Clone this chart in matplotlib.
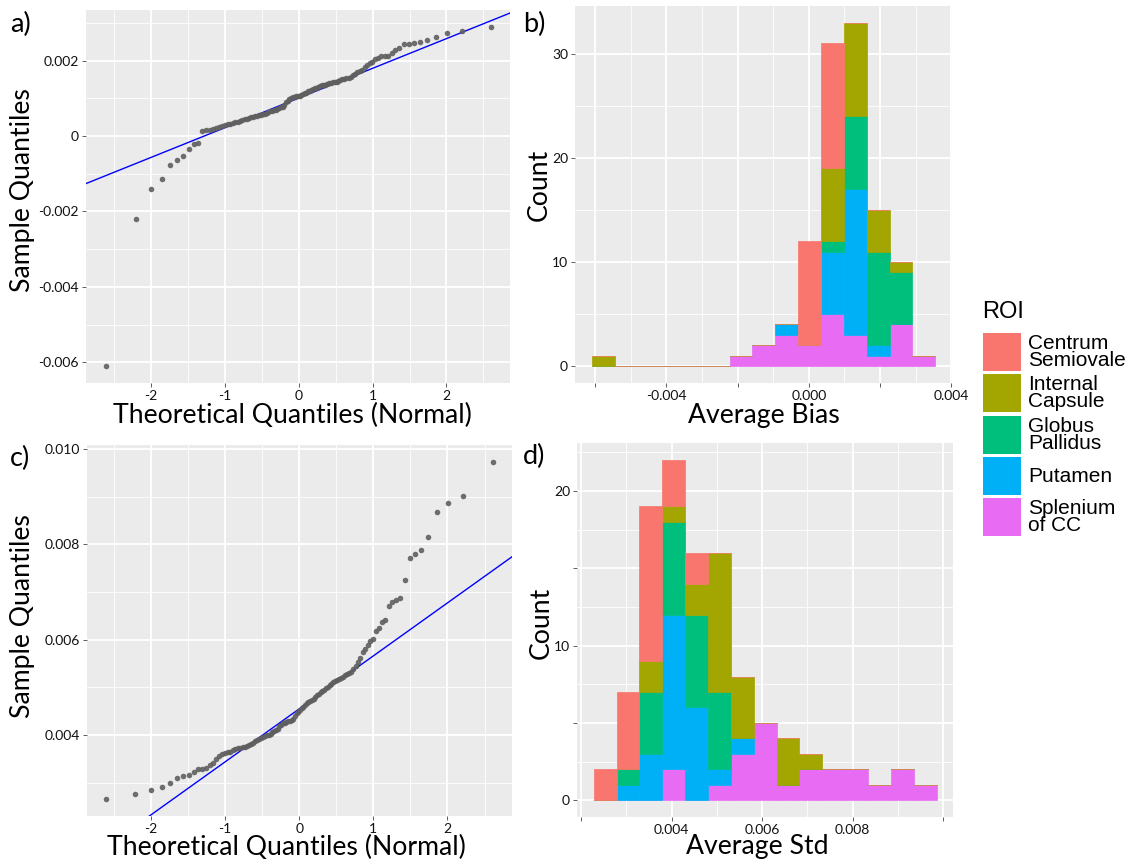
import matplotlib
matplotlib.use('Agg')
import matplotlib.pyplot as plt
import numpy as np
from statistics import NormalDist
from matplotlib.patches import Rectangle

plt.rcParams['axes.unicode_minus'] = False

# ---------------- data ----------------
roi_names = ["Centrum Semiovale", "Internal Capsule", "Globus Pallidus", "Putamen", "Splenium of CC"]
roi_colors = ["#F8766D", "#A3A500", "#00BF7D", "#00B0F6", "#E76BF3"]

# sorted sample values (x 1e-3) for the QQ plots
bias_sample_e3 = [
    -6.09, -2.19, -1.41, -1.14, -0.77, -0.63, -0.52, -0.345, -0.22, -0.195,
    0.12, 0.15, 0.17, 0.19, 0.21, 0.25, 0.27, 0.29, 0.31, 0.33,
    0.35, 0.37, 0.38, 0.40, 0.42, 0.44, 0.46, 0.47, 0.49, 0.51,
    0.52, 0.54, 0.55, 0.56, 0.57, 0.58, 0.60, 0.63, 0.65, 0.67,
    0.69, 0.70, 0.72, 0.74, 0.76, 0.78, 0.83, 0.89, 0.93, 0.97,
    1.00, 1.02, 1.04, 1.05, 1.06, 1.07, 1.09, 1.11, 1.13, 1.15,
    1.18, 1.20, 1.22, 1.24, 1.26, 1.27, 1.30, 1.32, 1.34, 1.35,
    1.36, 1.38, 1.40, 1.41, 1.42, 1.43, 1.44, 1.46, 1.48, 1.50,
    1.52, 1.53, 1.54, 1.57, 1.62, 1.65, 1.70, 1.72, 1.76, 1.82,
    1.88, 1.93, 1.96, 2.03, 2.08, 2.11, 2.12, 2.13, 2.21, 2.28,
    2.34, 2.43, 2.45, 2.46, 2.49, 2.55, 2.63, 2.72, 2.77, 2.90,
]
std_sample_e3 = [
    2.66, 2.76, 2.84, 2.91, 3.00, 3.10, 3.14, 3.17, 3.22, 3.29,
    3.29, 3.31, 3.36, 3.42, 3.49, 3.56, 3.61, 3.63, 3.64, 3.65,
    3.69, 3.71, 3.72, 3.73, 3.74, 3.75, 3.77, 3.79, 3.81, 3.84,
    3.87, 3.90, 3.92, 3.94, 3.96, 3.97, 3.99, 4.00, 4.03, 4.06,
    4.08, 4.10, 4.13, 4.18, 4.21, 4.24, 4.26, 4.28, 4.29, 4.30,
    4.32, 4.34, 4.40, 4.45, 4.49, 4.53, 4.56, 4.59, 4.62, 4.66,
    4.69, 4.71, 4.74, 4.76, 4.80, 4.83, 4.86, 4.89, 4.92, 4.95,
    4.98, 5.01, 5.04, 5.07, 5.11, 5.14, 5.16, 5.18, 5.20, 5.22,
    5.25, 5.28, 5.30, 5.32, 5.38, 5.45, 5.52, 5.62, 5.73, 5.80,
    5.88, 5.98, 6.02, 6.17, 6.24, 6.37, 6.41, 6.71, 6.79, 6.83,
    6.87, 7.24, 7.71, 7.80, 7.88, 8.16, 8.67, 8.87, 9.01, 9.73,
]

# histogram of Average Bias (15 bins), counts per ROI
bias_bin_centers = [-0.005759, -0.005117, -0.004475, -0.003833, -0.003191,
                    -0.002549, -0.001907, -0.001265, -0.000623, 0.000019,
                    0.000661, 0.001303, 0.001945, 0.002587, 0.003229]
bias_centrum  = [0, 0, 0, 0, 0, 0, 0, 0, 0, 10, 12, 0, 0, 0, 0]
bias_internal = [1, 0, 0, 0, 0, 0, 0, 0, 0, 0, 7, 9, 4, 1, 0]
bias_globus   = [0, 0, 0, 0, 0, 0, 0, 0, 0, 0, 1, 7, 9, 5, 0]
bias_putamen  = [0, 0, 0, 0, 0, 0, 0, 0, 1, 0, 6, 14, 1, 0, 0]
bias_splenium = [0, 0, 0, 0, 0, 0, 1, 2, 3, 2, 5, 3, 1, 4, 1]

# histogram of Average Std (15 bins), counts per ROI
std_bin_centers = [0.002533, 0.003038, 0.003543, 0.004048, 0.004553,
                   0.005058, 0.005563, 0.006068, 0.006573, 0.007078,
                   0.007583, 0.008088, 0.008593, 0.009098, 0.009603]
std_centrum  = [2, 5, 10, 3, 2, 0, 0, 0, 0, 0, 0, 0, 0, 0, 0]
std_internal = [0, 0, 2, 1, 2, 9, 4, 0, 3, 1, 0, 0, 0, 0, 0]
std_globus   = [0, 1, 4, 6, 6, 5, 0, 0, 0, 0, 0, 0, 0, 0, 0]
std_putamen  = [0, 1, 3, 10, 6, 1, 1, 0, 0, 0, 0, 0, 0, 0, 0]
std_splenium = [0, 0, 0, 2, 0, 1, 3, 5, 1, 2, 2, 2, 1, 2, 1]

# ---------------- figure ----------------
W, H = 1133, 863
fig = plt.figure(figsize=(W / 100, H / 100), dpi=100)
fig.patch.set_facecolor('white')

TXT = 'Lato'
LEG = 'Liberation Sans'
TITLE_SIZE = 19.2


def add_ax(left, top, right, bottom):
    return fig.add_axes([left / W, 1 - bottom / H, (right - left) / W, (bottom - top) / H])


def gg_style(ax, xlim, ylim, xmaj, xlab, xmin, ymaj, ylab, ymin):
    ax.set_facecolor('#EBEBEB')
    for s in ax.spines.values():
        s.set_visible(False)
    ax.set_xlim(*xlim)
    ax.set_ylim(*ylim)
    ax.set_xticks(xmaj)
    ax.set_xticklabels(xlab, fontfamily=TXT)
    ax.set_xticks(xmin, minor=True)
    ax.set_yticks(ymaj)
    ax.set_yticklabels(ylab, fontfamily=TXT)
    ax.set_yticks(ymin, minor=True)
    ax.grid(which='major', color='white', lw=1.3)
    ax.grid(which='minor', color='white', lw=0.6)
    ax.set_axisbelow(True)
    ax.tick_params(which='minor', length=0)
    ax.tick_params(which='major', length=3, width=0.6, color='#444444',
                   labelsize=10, labelcolor='#111111', pad=2)


def qq(ax, sample):
    s = np.sort(np.asarray(sample))
    n = len(s)
    nd = NormalDist()
    theo = np.array([nd.inv_cdf((i - 0.5) / n) for i in range(1, n + 1)])
    ax.scatter(theo, s, s=16, color='#5f5f5f', alpha=0.9, linewidths=0, zorder=3)
    q1, q3 = np.percentile(s, [25, 75])
    t1, t3 = nd.inv_cdf(0.25), nd.inv_cdf(0.75)
    slope = (q3 - q1) / (t3 - t1)
    inter = q1 - slope * t1
    xs = np.array([-3.2, 3.2])
    ax.plot(xs, inter + slope * xs, color='#0000ff', lw=1.0, zorder=2)


def stacked_hist(ax, centers, counts_list):
    centers = np.asarray(centers)
    width = np.median(np.diff(centers))
    bottom = np.zeros(len(centers))
    # stack in reverse level order (last level at bottom, as ggplot)
    for counts, col in reversed(list(zip(counts_list, roi_colors))):
        c = np.asarray(counts, dtype=float)
        ax.bar(centers, c, width=width, bottom=bottom, color=col,
               edgecolor=col, linewidth=0.5, zorder=2)
        bottom += c


def titles(ax, xt, yt, xfrac, yfrac, ylab_x, xlab_y=-0.052):
    ax.set_xlabel(xt, fontfamily=TXT, fontsize=TITLE_SIZE)
    ax.set_ylabel(yt, fontfamily=TXT, fontsize=TITLE_SIZE)
    ax.xaxis.set_label_coords(xfrac, xlab_y)
    ax.yaxis.set_label_coords(ylab_x, yfrac)
    ax.xaxis.label.set_va('top')


# ---- panel a ----
axa = add_ax(86, 10, 510, 383)
qq(axa, np.array(bias_sample_e3) * 1e-3)
gg_style(axa, (-2.88, 2.86), (-0.00655, 0.00334),
         [-2, -1, 0, 1, 2], ['-2', '-1', '0', '1', '2'], [-2.5, -1.5, -0.5, 0.5, 1.5, 2.5],
         [-0.006, -0.004, -0.002, 0, 0.002], ['-0.006', '-0.004', '-0.002', '0', '0.002'],
         [-0.005, -0.003, -0.001, 0.001, 0.003])
titles(axa, 'Theoretical Quantiles (Normal)', 'Sample Quantiles', 0.487, 0.517, -0.121)

# ---- panel c ----
axc = add_ax(87, 445, 512, 816)
qq(axc, np.array(std_sample_e3) * 1e-3)
gg_style(axc, (-2.86, 2.87), (0.0023, 0.01008),
         [-2, -1, 0, 1, 2], ['-2', '-1', '0', '1', '2'], [-2.5, -1.5, -0.5, 0.5, 1.5, 2.5],
         [0.004, 0.006, 0.008, 0.010], ['0.004', '0.006', '0.008', '0.010'],
         [0.003, 0.005, 0.007, 0.009])
titles(axc, 'Theoretical Quantiles (Normal)', 'Sample Quantiles', 0.47, 0.54, -0.122)

# ---- panel b ----
axb = add_ax(575, 6, 952, 383)
stacked_hist(axb, bias_bin_centers,
             [bias_centrum, bias_internal, bias_globus, bias_putamen, bias_splenium])
gg_style(axb, (-0.00657, 0.00402), (-1.63, 34.6),
         [-0.006, -0.004, -0.002, 0.0, 0.002, 0.004], ['', '-0.004', '', '0.000', '', '0.004'],
         [-0.005, -0.003, -0.001, 0.001, 0.003],
         [0, 10, 20, 30], ['0', '10', '20', '30'], [5, 15, 25])
titles(axb, 'Average Bias', 'Count', 0.5, 0.525, -0.061)

# ---- panel d ----
axd = add_ax(577, 443, 953, 817)
stacked_hist(axd, std_bin_centers,
             [std_centrum, std_internal, std_globus, std_putamen, std_splenium])
gg_style(axd, (0.00191, 0.01022), (-1.08, 23.1),
         [0.002, 0.004, 0.006, 0.008, 0.010], ['', '0.004', '0.006', '0.008', ''],
         [0.003, 0.005, 0.007, 0.009],
         [0, 5, 10, 15, 20], ['0', '', '10', '', '20'], [2.5, 7.5, 12.5, 17.5, 22.5])
titles(axd, 'Average Std', 'Count', 0.48, 0.52, -0.062, xlab_y=-0.045)

# ---- panel labels ----
for lab, x, y in [('a)', 10, 24), ('b)', 523, 24), ('c)', 10, 458), ('d)', 523, 456)]:
    fig.text(x / W, 1 - y / H, lab, fontfamily=TXT, fontsize=19.5, va='center', ha='left')

# ---- legend ----
fig.text(982 / W, 1 - 312 / H, 'ROI', fontfamily=LEG, fontsize=17, va='center', ha='left')
key_tops = [333, 374, 416, 457, 498]
for name, col, top in zip(roi_names, roi_colors, key_tops):
    fig.add_artist(Rectangle((983 / W, 1 - (top + 38) / H), 38 / W, 38 / H,
                             transform=fig.transFigure, facecolor=col, edgecolor='none'))
    fig.text(1028 / W, 1 - (top + 19) / H, name.replace(' ', '\n', 1), fontfamily=LEG,
             fontsize=15, va='center', ha='left', linespacing=0.92)

fig.savefig('out.png', dpi=100)
